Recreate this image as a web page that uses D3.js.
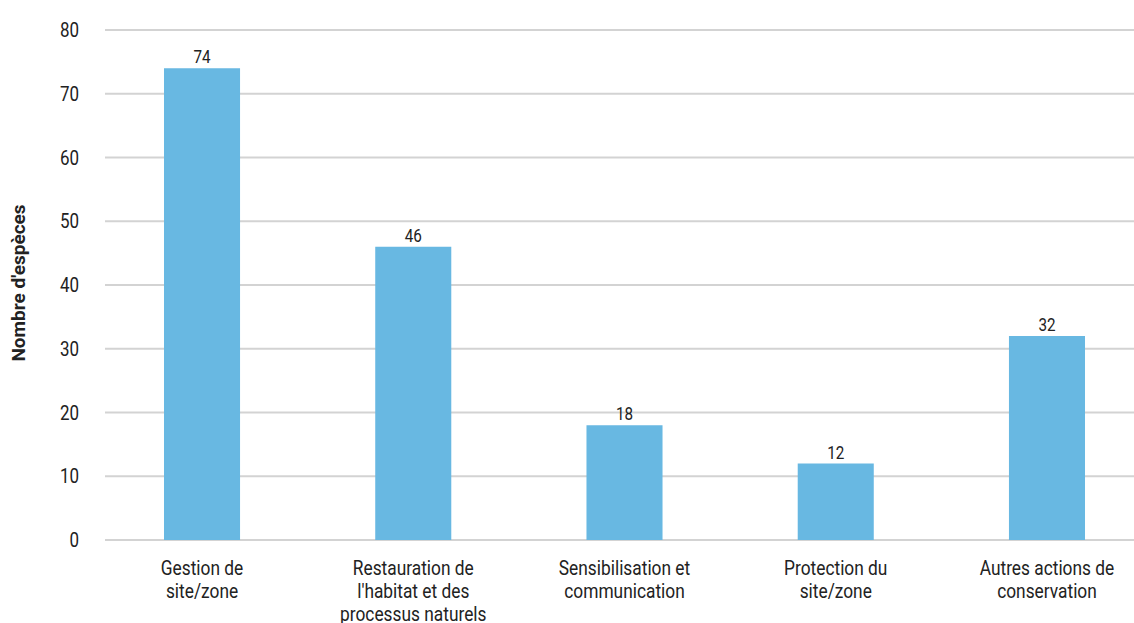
<!DOCTYPE html>
<html>
<head>
<meta charset="utf-8">
<script src="https://cdn.jsdelivr.net/npm/d3@7/dist/d3.min.js"></script>
<style>
  html, body { margin: 0; padding: 0; background: #fff; }
  svg { display: block; }
  text { font-family: Roboto, "Liberation Sans", sans-serif; fill: #222; }
</style>
</head>
<body>
<svg id="chart" width="1134" height="623"></svg>
<script>
const categories = [
  ["Gestion de", "site/zone"],
  ["Restauration de", "l'habitat et des", "processus naturels"],
  ["Sensibilisation et", "communication"],
  ["Protection du", "site/zone"],
  ["Autres actions de", "conservation"]
];
const values = [74, 46, 18, 12, 32];
const yTicks = [0, 10, 20, 30, 40, 50, 60, 70, 80];
const yTitle = "Nombre d'espèces";

const svg = d3.select("#chart");
const W = 1134;
const narrow = 0.87;    // horizontal squeeze for a condensed look
const narrowCat = 0.845;

const y = d3.scaleLinear().domain([0, 80]).range([540, 30]);
const x = d3.scaleBand()
  .domain(d3.range(values.length))
  .range([96.4, 1152.6])
  .paddingInner(0.64)
  .paddingOuter(0.32);

// gridlines
svg.append("g").selectAll("line")
  .data(yTicks)
  .join("line")
  .attr("x1", 105).attr("x2", W)
  .attr("y1", d => y(d)).attr("y2", d => y(d))
  .attr("stroke", "#d3d3d3")
  .attr("stroke-width", 2);

// y tick labels
svg.append("g").selectAll("text")
  .data(yTicks)
  .join("text")
  .attr("transform", d => `translate(79,${y(d)}) scale(${narrow},1)`)
  .attr("dy", "0.36em")
  .attr("text-anchor", "end")
  .attr("font-size", 19.5)
  .text(d => d);

// axis title
svg.append("text")
  .attr("transform", "translate(25,283) rotate(-90)")
  .attr("text-anchor", "middle")
  .attr("font-size", 19)
  .attr("font-weight", "bold")
  .text(yTitle);

// bars
svg.append("g").selectAll("rect")
  .data(values)
  .join("rect")
  .attr("x", (d, i) => x(i))
  .attr("width", x.bandwidth())
  .attr("y", d => y(d))
  .attr("height", d => y(0) - y(d))
  .attr("fill", "#68b8e2");

// value labels
svg.append("g").selectAll("text")
  .data(values)
  .join("text")
  .attr("transform", (d, i) => `translate(${x(i) + x.bandwidth() / 2},${y(d) - 5}) scale(${narrow},1)`)
  .attr("text-anchor", "middle")
  .attr("font-size", 17.5)
  .text(d => d);

// category labels (the third line sits right at the bottom edge)
const cat = svg.append("g").selectAll("text")
  .data(categories)
  .join("text")
  .attr("transform", (d, i) => `translate(${x(i) + x.bandwidth() / 2},575) scale(${narrowCat},1)`)
  .attr("text-anchor", "middle")
  .attr("font-size", 20.5);
cat.selectAll("tspan")
  .data(d => d)
  .join("tspan")
  .attr("x", 0)
  .attr("dy", (d, j) => j === 0 ? 0 : 22.8)
  .text(d => d);
</script>
</body>
</html>
